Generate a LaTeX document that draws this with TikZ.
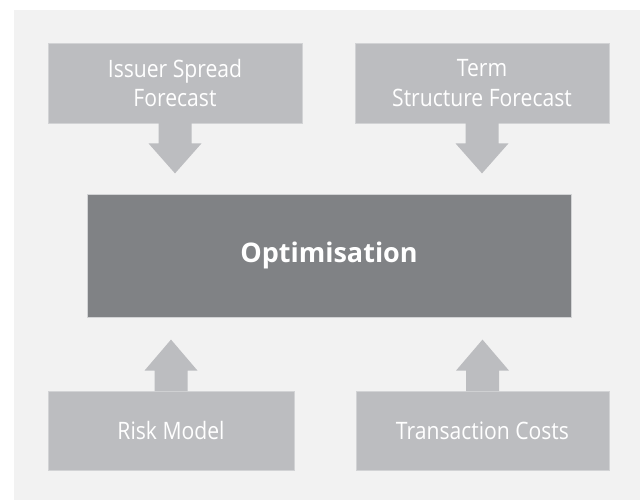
\documentclass[tikz,border=0pt]{standalone}
\usepackage{fontspec}
\setmainfont{Open Sans}
\newfontfamily\condfont[FakeStretch=0.88]{Open Sans}
\usetikzlibrary{calc}
\definecolor{bg}{HTML}{F2F2F2}
\definecolor{boxc}{HTML}{BCBDC0}
\definecolor{darkc}{HTML}{808285}
\definecolor{edgec}{HTML}{D2D3D5}
\begin{document}
\begin{tikzpicture}[x=1pt,y=-1pt,
  inbox/.style={fill=boxc,draw=edgec,line width=0.8pt,inner sep=0pt,align=center,
    text=white,font=\condfont\fontsize{24}{29.5}\selectfont},
  mainbox/.style={fill=darkc,draw=edgec,line width=0.8pt,inner sep=0pt,align=center,
    text=white,font=\fontsize{27}{32}\selectfont\bfseries},
  fatarrow/.style={fill=boxc}]
\useasboundingbox (0,0) rectangle (640,500);
\fill[white] (0,0) rectangle (640,500);
\fill[bg] (14,10) rectangle (640,500);
\node[inbox,minimum width=254pt,minimum height=80pt] (isf) at (175,83) {Issuer Spread\\Forecast};
\node[inbox,minimum width=254pt,minimum height=80pt] (tsf) at (482,83) {Term\\Structure Forecast};
\node[mainbox,minimum width=484pt,minimum height=123pt] (opt) at (329,255.5) {Optimisation};
\node[inbox,minimum width=246pt,minimum height=79pt] (rm) at (171,430.5) {Risk Model};
\node[inbox,minimum width=253pt,minimum height=79pt] (tc) at (482.5,430.5) {Transaction Costs};
% arrows down
\foreach \b in {isf,tsf}{
  \fill[fatarrow] ($(\b.south)+(-16.5,-0.4)$) -- ($(\b.south)+(-16.5,20)$) -- ($(\b.south)+(-26.5,20)$)
    -- ($(\b.south)+(0,50)$) -- ($(\b.south)+(26.5,20)$) -- ($(\b.south)+(16.5,20)$)
    -- ($(\b.south)+(16.5,-0.4)$) -- cycle;
}
% arrows up
\foreach \b in {rm,tc}{
  \fill[fatarrow] ($(\b.north)+(-16.5,0.4)$) -- ($(\b.north)+(-16.5,-20)$) -- ($(\b.north)+(-26.5,-20)$)
    -- ($(\b.north)+(0,-51)$) -- ($(\b.north)+(26.5,-20)$) -- ($(\b.north)+(16.5,-20)$)
    -- ($(\b.north)+(16.5,0.4)$) -- cycle;
}
\end{tikzpicture}
\end{document}
